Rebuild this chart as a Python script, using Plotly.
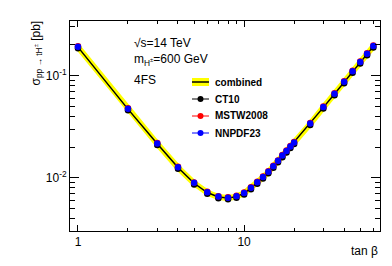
import plotly.graph_objects as go

# ---- data ----
tan_beta = [1, 2, 3, 4, 5, 6, 7, 8, 9, 10, 11, 12, 13, 14, 15, 16, 17, 18, 19, 20,
            25, 30, 35, 40, 45, 50, 55, 60]
combined = [0.190, 0.0470, 0.0215, 0.0126, 0.00885, 0.00718, 0.00650, 0.00635, 0.00655,
            0.00706, 0.00793, 0.00897, 0.0101, 0.0114, 0.0129, 0.0146, 0.0164, 0.0181,
            0.0201, 0.0220, 0.0337, 0.0489, 0.0660, 0.0866, 0.1094, 0.1347, 0.1624, 0.1931]
ct10 = [0.185, 0.0458, 0.0209, 0.01226, 0.00862, 0.00699, 0.00632, 0.00618, 0.00637,
        0.00687, 0.00772, 0.00873, 0.00984, 0.0111, 0.01255, 0.0142, 0.0159, 0.0177,
        0.0196, 0.0214, 0.0328, 0.0476, 0.0643, 0.0842, 0.1066, 0.1312, 0.158, 0.188]
mstw2008 = [0.194, 0.0479, 0.0219, 0.01283, 0.00902, 0.00731, 0.00662, 0.00646, 0.00667,
            0.00719, 0.00808, 0.00914, 0.0103, 0.0116, 0.0131, 0.0148, 0.0167, 0.0185,
            0.0205, 0.0224, 0.0343, 0.0498, 0.0673, 0.0882, 0.1116, 0.1374, 0.1656, 0.197]
nnpdf23 = [0.192, 0.0474, 0.0217, 0.0127, 0.00893, 0.00724, 0.00655, 0.00640, 0.00660,
           0.00712, 0.00800, 0.00905, 0.0102, 0.0115, 0.0130, 0.0147, 0.0165, 0.0183,
           0.0203, 0.0222, 0.0340, 0.0493, 0.0666, 0.0873, 0.1105, 0.1360, 0.1640, 0.195]

x_ticks = [1, 10]
x_ticklabels = ["1", "10"]
y_ticks = [0.01, 0.1]
y_ticklabels = ["10<sup>-2</sup>", "10<sup>-1</sup>"]

series_names = ["CT10", "MSTW2008", "NNPDF23"]
series_colors = ["#000000", "#ff0000", "#0000ff"]

# ---- figure ----
W, H = 392, 266
L, R, T, B = 62, 20, 13, 43
pw, ph = W - L - R, H - T - B

def px(xp):
    return (xp - L) / pw

def py(yp):
    return (H - B - yp) / ph

fig = go.Figure()
fig.add_trace(go.Scatter(x=tan_beta, y=combined, mode="lines",
                         line=dict(color="#ffff00", width=6), showlegend=False,
                         hoverinfo="skip"))
fig.add_trace(go.Scatter(x=tan_beta, y=combined, mode="lines",
                         line=dict(color="#000000", width=1.5), showlegend=False))
for name, vals, col in zip(series_names, [ct10, mstw2008, nnpdf23], series_colors):
    fig.add_trace(go.Scatter(x=tan_beta, y=vals, mode="markers", name=name,
                             marker=dict(color=col, size=6.5, line=dict(width=0)),
                             showlegend=False))

font = "Liberation Sans, Arial, Helvetica, sans-serif"

fig.update_layout(
    width=W, height=H,
    margin=dict(l=L, r=R, t=T, b=B, pad=0),
    paper_bgcolor="white", plot_bgcolor="white",
    font=dict(family=font, size=12, color="black"),
    showlegend=False,
)
fig.update_xaxes(
    type="log", range=[-0.048, 1.818],
    tickmode="array", tickvals=x_ticks, ticktext=x_ticklabels,
    ticks="inside", ticklen=6, tickwidth=1, tickcolor="black",
    showline=True, linecolor="black", linewidth=1, mirror="allticks",
    showgrid=False, zeroline=False,
    minor=dict(ticks="inside", ticklen=3, tickwidth=1, tickcolor="black",
               dtick="D1", showgrid=False),
    tickfont=dict(size=12),
)
fig.update_yaxes(
    type="log", range=[-2.52, -0.466],
    tickmode="array", tickvals=y_ticks, ticktext=y_ticklabels,
    ticks="inside", ticklen=9, tickwidth=1, tickcolor="black",
    showline=True, linecolor="black", linewidth=1, mirror="allticks",
    showgrid=False, zeroline=False,
    minor=dict(ticks="inside", ticklen=5, tickwidth=1, tickcolor="black",
               dtick="D1", showgrid=False),
    tickfont=dict(size=12),
)

ann = []
shapes = []
# axis titles
ann.append(dict(text="tan β", x=1.0, y=py(243), xref="paper", yref="paper",
                xanchor="right", yanchor="middle", showarrow=False,
                font=dict(size=12)))
ann.append(dict(text="σ<sub>pp → tH<sup>±</sup></sub> [pb]", x=px(28), y=py(11),
                xref="paper", yref="paper", textangle=-90,
                xanchor="center", yanchor="top", showarrow=False,
                font=dict(size=12)))
# info text
for txt, yy in [("√s=14 TeV", 35), ("m<sub>H<sup>±</sup></sub>=600 GeV", 52), ("4FS", 72)]:
    ann.append(dict(text=txt, x=px(124), y=py(yy), xref="paper", yref="paper",
                    xanchor="left", yanchor="middle", showarrow=False,
                    font=dict(size=12)))

# legend (manual)
lx0, lx1, tx = 184, 201, 205
leg_y = [74, 91, 108, 125]
shapes.append(dict(type="rect", xref="paper", yref="paper",
                   x0=px(lx0), x1=px(lx1), y0=py(leg_y[0] + 4), y1=py(leg_y[0] - 4),
                   fillcolor="#ffff00", line=dict(width=0)))
shapes.append(dict(type="line", xref="paper", yref="paper",
                   x0=px(lx0), x1=px(lx1), y0=py(leg_y[0]), y1=py(leg_y[0]),
                   line=dict(color="black", width=1.5)))
ann.append(dict(text="<b>combined</b>", x=px(tx), y=py(leg_y[0]), xref="paper",
                yref="paper", xanchor="left", yanchor="middle", showarrow=False,
                font=dict(size=10)))
for name, col, yy in zip(series_names, series_colors, leg_y[1:]):
    shapes.append(dict(type="line", xref="paper", yref="paper",
                       x0=px(lx0), x1=px(lx1), y0=py(yy), y1=py(yy),
                       line=dict(color=col, width=1)))
    shapes.append(dict(type="circle", xref="paper", yref="paper",
                       xsizemode="pixel", ysizemode="pixel",
                       xanchor=px((lx0 + lx1) / 2), yanchor=py(yy),
                       x0=-3, x1=3, y0=-3, y1=3,
                       fillcolor=col, line=dict(width=0)))
    ann.append(dict(text="<b>%s</b>" % name, x=px(tx), y=py(yy), xref="paper",
                    yref="paper", xanchor="left", yanchor="middle", showarrow=False,
                    font=dict(size=10)))

fig.update_layout(annotations=ann, shapes=shapes)
fig.write_html("out.html")
